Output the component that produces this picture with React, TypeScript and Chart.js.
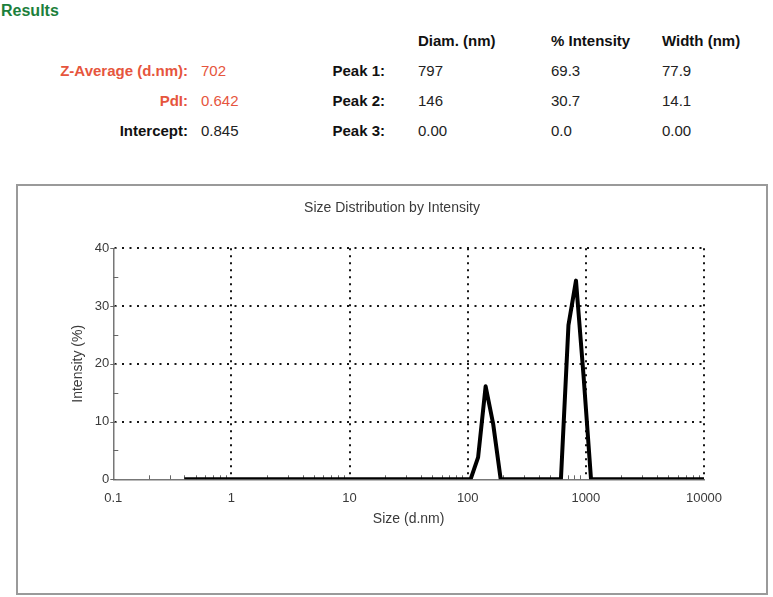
import React, { useEffect, useRef } from 'react';
import { Chart, registerables } from 'chart.js';

Chart.register(...registerables);

// ---- Data (Zetasizer size classes, d.nm) ----
const sizes = [
  0.4, 0.4632, 0.5365, 0.6213, 0.7195, 0.8332, 0.9649, 1.117, 1.294, 1.499,
  1.736, 2.01, 2.328, 2.696, 3.122, 3.615, 4.187, 4.849, 5.615, 6.503,
  7.531, 8.721, 10.1, 11.7, 13.54, 15.69, 18.17, 21.04, 24.36, 28.21,
  32.67, 37.84, 43.82, 50.75, 58.77, 68.06, 78.82, 91.28, 105.7, 122.4,
  141.8, 164.2, 190.1, 220.2, 255, 295.3, 342, 396.1, 458.7, 531.2,
  615.1, 712.4, 825, 955.4, 1106, 1281, 1484, 1718, 1990, 2305,
  2669, 3091, 3580, 4145, 4801, 5560, 6439, 7456, 8635, 10000,
];
const intensity = [
  0, 0, 0, 0, 0, 0, 0, 0, 0, 0,
  0, 0, 0, 0, 0, 0, 0, 0, 0, 0,
  0, 0, 0, 0, 0, 0, 0, 0, 0, 0,
  0, 0, 0, 0, 0, 0, 0, 0, 0, 3.8,
  16.1, 9.6, 0, 0, 0, 0, 0, 0, 0, 0,
  0, 26.7, 34.4, 18.0, 0, 0, 0, 0, 0, 0,
  0, 0, 0, 0, 0, 0, 0, 0, 0, 0,
];

const xTickValues = [0.1, 1, 10, 100, 1000, 10000];
const xTickLabels = ['0.1', '1', '10', '100', '1000', '10000'];
const xMinorMultipliers = [2, 3, 4, 5, 6, 7, 8, 9];
const yTickValues = [0, 10, 20, 30, 40];
const yMinorTicks = [5, 15, 25, 35];

const chartTitle = 'Size Distribution by Intensity';
const xTitle = 'Size (d.nm)';
const yTitle = 'Intensity (%)';

const resultsTitle = 'Results';
const summaryLabels = ['Z-Average (d.nm):', 'PdI:', 'Intercept:'];
const summaryValues = ['702', '0.642', '0.845'];
const summaryRed = [true, true, false];
const peakLabels = ['Peak 1:', 'Peak 2:', 'Peak 3:'];
const peakHeaders = ['Diam. (nm)', '% Intensity', 'Width (nm)'];
const peakDiam = ['797', '146', '0.00'];
const peakIntensity = ['69.3', '30.7', '0.0'];
const peakWidth = ['77.9', '14.1', '0.00'];

const FONT = "'Liberation Sans', Arial, Helvetica, sans-serif";
const TEXT_GRAY = '#3a3a3a';
const RED = '#e6553d';
const GREEN = '#1c7f3c';

const minorTicksPlugin = {
  id: 'minorTicks',
  beforeDatasetsDraw(chart: any) {
    const { ctx, scales } = chart;
    const x = scales.x;
    const y = scales.y;
    const x0 = x.getPixelForValue(xTickValues[0]);
    const y0 = y.getPixelForValue(yTickValues[0]);
    ctx.save();
    ctx.strokeStyle = '#666';
    ctx.lineWidth = 1;
    ctx.beginPath();
    for (let i = 0; i < xTickValues.length - 1; i++) {
      for (const m of xMinorMultipliers) {
        const px = Math.round(x.getPixelForValue(xTickValues[i] * m)) + 0.5;
        ctx.moveTo(px, y0);
        ctx.lineTo(px, y0 - 4);
      }
    }
    for (const v of yMinorTicks) {
      const py = Math.round(y.getPixelForValue(v)) + 0.5;
      ctx.moveTo(x0, py);
      ctx.lineTo(x0 + 5, py);
    }
    for (const v of yTickValues) {
      const py = Math.round(y.getPixelForValue(v)) + 0.5;
      ctx.moveTo(x0 - 3, py);
      ctx.lineTo(x0 + 3, py);
    }
    ctx.stroke();
    ctx.restore();
  },
};

function Txt(props: {
  x: number; y: number; text: string; size?: number; bold?: boolean;
  color?: string; right?: boolean;
}) {
  const size = props.size || 15;
  const capOffset = size * 0.488;
  return (
    <div
      style={{
        position: 'absolute',
        left: props.x,
        top: props.y - capOffset,
        transform: props.right ? 'translateX(-100%)' : undefined,
        fontFamily: FONT,
        fontSize: size,
        lineHeight: `${size}px`,
        fontWeight: props.bold ? 'bold' : 'normal',
        color: props.color || '#1a1a1a',
        whiteSpace: 'nowrap',
      }}
    >
      {props.text}
    </div>
  );
}

export default function App() {
  const canvasRef = useRef<HTMLCanvasElement | null>(null);

  useEffect(() => {
    const canvas = canvasRef.current;
    if (!canvas) return;
    const dark = '#151515';
    const chart = new Chart(canvas, {
      type: 'line',
      data: {
        datasets: [
          {
            data: sizes.map((s, i) => ({ x: s, y: intensity[i] })),
            borderColor: '#000',
            borderWidth: 4,
            borderJoinStyle: 'round',
            pointRadius: 0,
            tension: 0,
            fill: false,
          },
        ],
      },
      options: {
        animation: false,
        responsive: false,
        devicePixelRatio: 1,
        layout: { padding: { left: 0, right: 0, top: 0, bottom: 0 } },
        plugins: {
          legend: { display: false },
          tooltip: { enabled: false },
          title: {
            display: true,
            text: chartTitle,
            color: TEXT_GRAY,
            font: { family: FONT, size: 14, weight: 'normal' },
            padding: { top: 13.6, bottom: 31.9 },
          },
        },
        scales: {
          x: {
            type: 'logarithmic',
            min: 0.1,
            max: 10000,
            afterBuildTicks: (s: any) => {
              s.ticks = xTickValues.map((v) => ({ value: v }));
            },
            afterFit: (s: any) => {
              s.height = 113.7;
            },
            ticks: {
              autoSkip: false,
              maxRotation: 0,
              padding: 11,
              color: TEXT_GRAY,
              font: { family: FONT, size: 13 },
              callback: (_v: any, i: number) => xTickLabels[i],
            },
            grid: {
              drawTicks: false,
              lineWidth: 2,
              color: (c: any) =>
                c.tick && c.tick.value === xTickValues[0] ? 'rgba(0,0,0,0)' : dark,
            },
            border: { display: true, color: '#777', width: 1.5, dash: [2, 5] },
            title: {
              display: true,
              text: xTitle,
              color: TEXT_GRAY,
              font: { family: FONT, size: 14 },
              padding: { top: 0, bottom: 65.6 },
            },
          },
          y: {
            min: 0,
            max: 40,
            afterBuildTicks: (s: any) => {
              s.ticks = yTickValues.map((v) => ({ value: v }));
            },
            afterFit: (s: any) => {
              s.width = 95.3;
            },
            ticks: {
              padding: 4,
              color: TEXT_GRAY,
              font: { family: FONT, size: 13 },
            },
            grid: {
              drawTicks: false,
              lineWidth: 2,
              color: (c: any) =>
                c.tick && c.tick.value === yTickValues[0] ? 'rgba(0,0,0,0)' : dark,
            },
            border: { display: true, color: '#777', width: 1.5, dash: [2, 5.5] },
            title: {
              display: true,
              text: yTitle,
              color: TEXT_GRAY,
              font: { family: FONT, size: 14 },
              padding: { top: 51.6, bottom: 0 },
            },
          },
          yRightSpace: {
            position: 'right',
            min: 0,
            max: 40,
            ticks: { display: false },
            grid: { display: false, drawOnChartArea: false },
            border: { display: false },
            afterFit: (s: any) => {
              s.width = 62;
            },
          },
        },
      } as any,
      plugins: [minorTicksPlugin],
    });
    return () => chart.destroy();
  }, []);

  const rowY = [70.5, 100.5, 130.5];
  const headerY = 40.5;
  const colX = [418, 551, 662];
  const peakCols = [peakDiam, peakIntensity, peakWidth];

  return (
    <div
      style={{
        position: 'absolute',
        left: 0,
        top: 0,
        width: 773,
        height: 597,
        background: '#fff',
        overflow: 'hidden',
      }}
    >
      <Txt x={1} y={11} text={resultsTitle} size={16} bold color={GREEN} />
      {summaryLabels.map((l, i) => (
        <Txt key={'sl' + i} x={188} y={rowY[i]} text={l} bold right color={summaryRed[i] ? RED : '#111'} />
      ))}
      {summaryValues.map((v, i) => (
        <Txt key={'sv' + i} x={201} y={rowY[i]} text={v} color={summaryRed[i] ? RED : '#222'} />
      ))}
      {peakHeaders.map((h, i) => (
        <Txt key={'ph' + i} x={colX[i]} y={headerY} text={h} bold color="#111" />
      ))}
      {peakLabels.map((l, i) => (
        <Txt key={'pl' + i} x={385} y={rowY[i]} text={l} bold right color="#111" />
      ))}
      {peakCols.map((col, c) =>
        col.map((v, i) => (
          <Txt key={'pv' + c + '-' + i} x={colX[c]} y={rowY[i]} text={v} color="#222" />
        ))
      )}
      <div
        style={{
          position: 'absolute',
          left: 16,
          top: 184,
          width: 748,
          height: 407,
          border: '2px solid #9a9a9a',
          background: '#fff',
        }}
      >
        <canvas ref={canvasRef} width={748} height={407} style={{ display: 'block', width: 748, height: 407 }} />
      </div>
    </div>
  );
}
